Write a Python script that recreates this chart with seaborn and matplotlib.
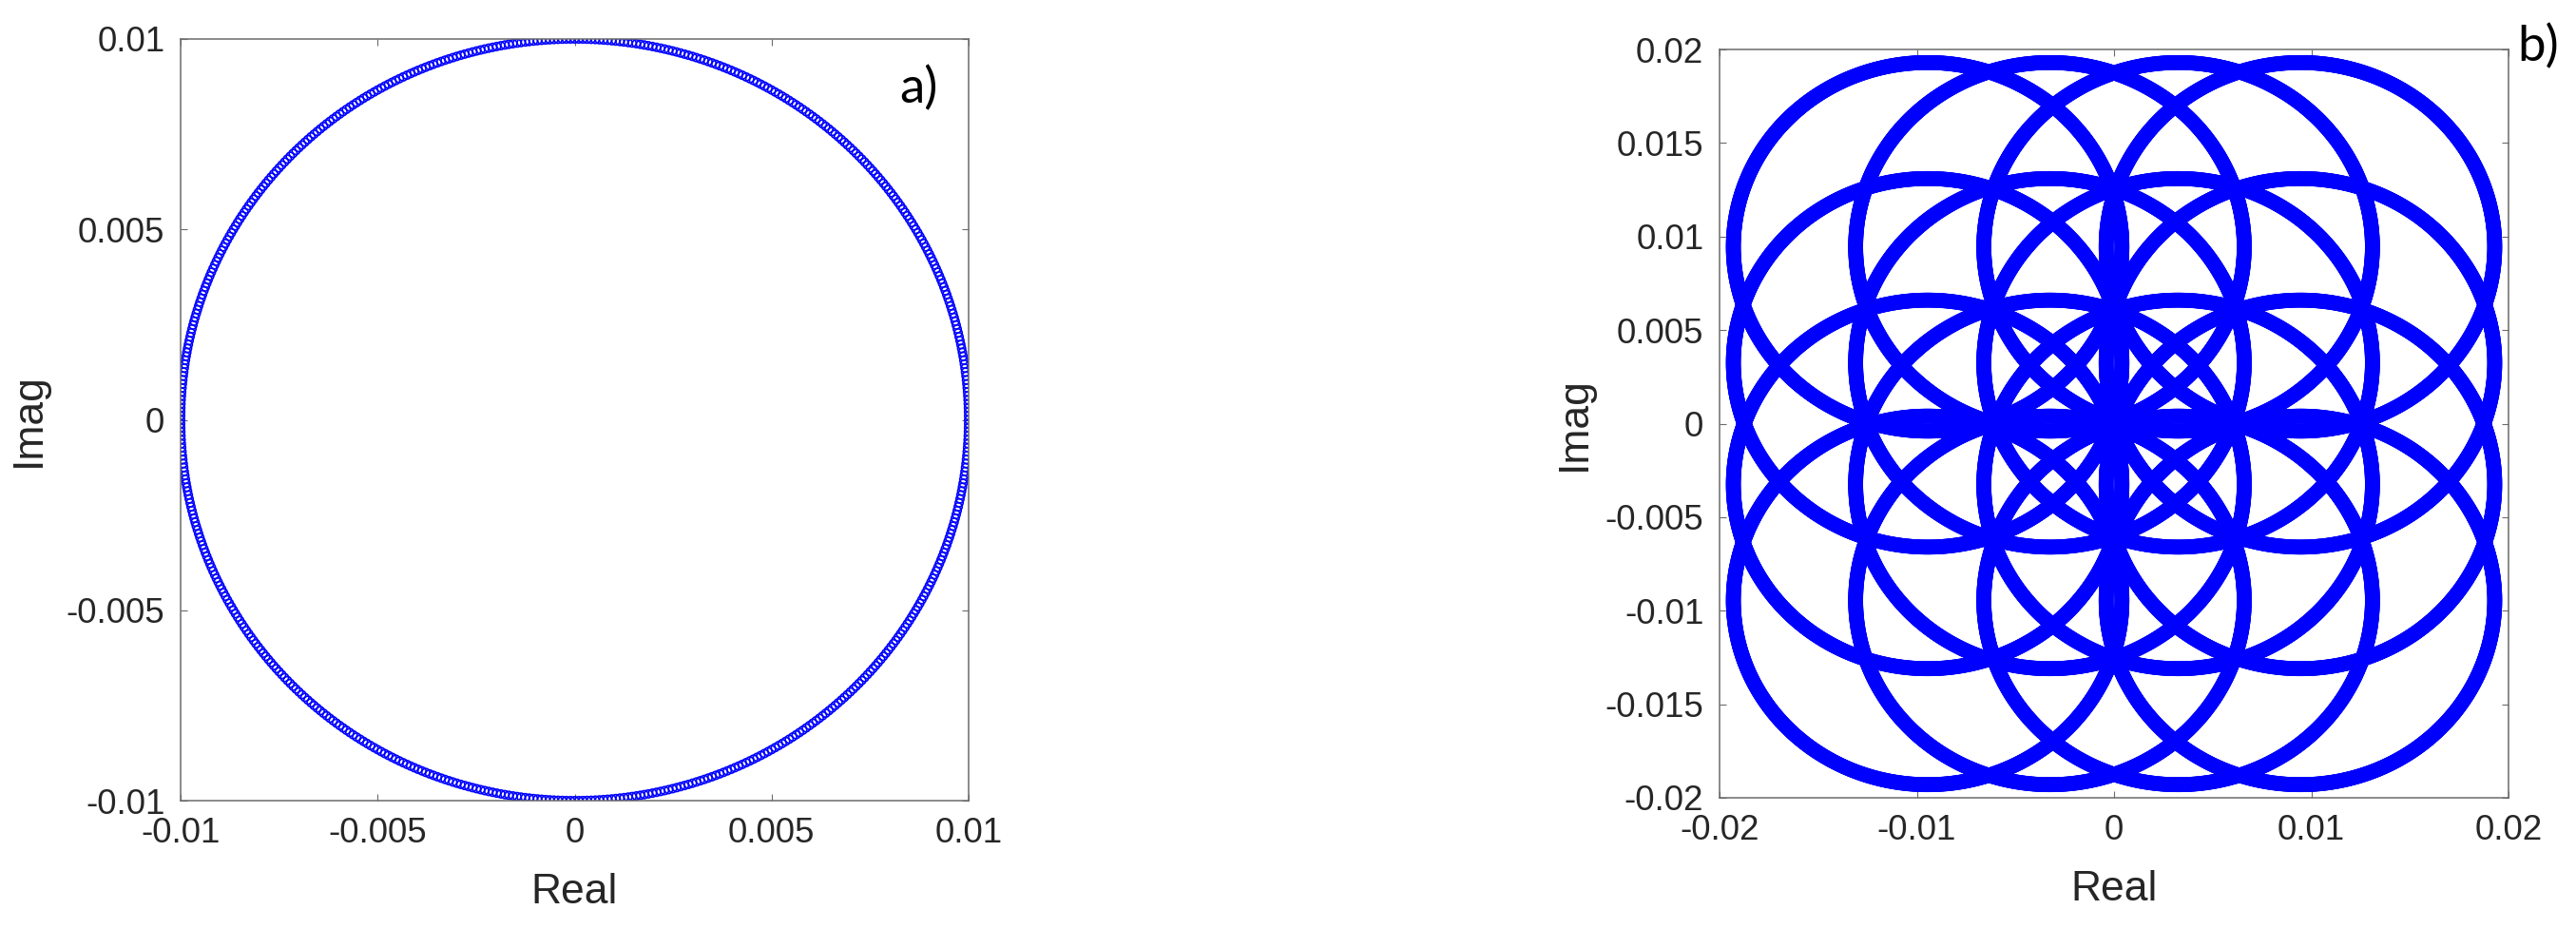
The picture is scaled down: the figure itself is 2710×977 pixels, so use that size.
import numpy as np
import pandas as pd
import matplotlib
matplotlib.use("Agg")
import matplotlib.pyplot as plt
import seaborn as sns

# ---------------- data ----------------
# panel a: one constellation ring
ring_a_radius = 0.01
ring_a_center = (0.0, 0.0)
ring_a_samples = 600

# panel b: 4 x 4 grid of rings (centre coordinates on each axis)
ring_b_centers_x = [-0.00945, -0.00325, 0.00325, 0.00945]
ring_b_centers_y = [-0.00945, -0.00325, 0.00325, 0.00945]
ring_b_radius = 0.00985
ring_b_samples = 1000

# axes / ticks
a_lim = [-0.01, 0.01]
a_xticks = [-0.01, -0.005, 0, 0.005, 0.01]
a_xticklabels = ["-0.01", "-0.005", "0", "0.005", "0.01"]
a_yticks = [-0.01, -0.005, 0, 0.005, 0.01]
a_yticklabels = ["-0.01", "-0.005", "0", "0.005", "0.01"]

b_lim = [-0.02, 0.02]
b_xticks = [-0.02, -0.01, 0, 0.01, 0.02]
b_xticklabels = ["-0.02", "-0.01", "0", "0.01", "0.02"]
b_yticks = [-0.02, -0.015, -0.01, -0.005, 0, 0.005, 0.01, 0.015, 0.02]
b_yticklabels = ["-0.02", "-0.015", "-0.01", "-0.005", "0", "0.005", "0.01", "0.015", "0.02"]

x_label = "Real"
y_label = "Imag"
panel_labels = ["a)", "b)"]


def ring_points(cx, cy, r, n):
    t = np.linspace(0, 2 * np.pi, n, endpoint=False)
    return cx + r * np.cos(t), cy + r * np.sin(t)


xa, ya = ring_points(ring_a_center[0], ring_a_center[1], ring_a_radius, ring_a_samples)
df_a = pd.DataFrame({"Real": xa, "Imag": ya})

rows = []
for cy in ring_b_centers_y:
    for cx in ring_b_centers_x:
        x, y = ring_points(cx, cy, ring_b_radius, ring_b_samples)
        rows.append(pd.DataFrame({"Real": x, "Imag": y}))
df_b = pd.concat(rows, ignore_index=True)

# ---------------- styling ----------------
sns.set_style("white")
plt.rcParams["font.family"] = ["Liberation Sans", "DejaVu Sans"]
plt.rcParams["axes.unicode_minus"] = False

DPI = 100
fig = plt.figure(figsize=(27.10, 9.77), dpi=DPI)

ax_a = fig.add_axes([190 / 2710, (977 - 842) / 977, 829 / 2710, 801 / 977])
ax_b = fig.add_axes([1809 / 2710, (977 - 839) / 977, 830 / 2710, 787 / 977])

BLUE = "#0000ff"
TXT = "#262626"
SPINE = "#6b6b6b"

sns.scatterplot(data=df_a, x="Real", y="Imag", ax=ax_a, marker="o", s=36,
                color=BLUE, edgecolor=BLUE, linewidth=1.2, legend=False)
sns.scatterplot(data=df_b, x="Real", y="Imag", ax=ax_b, marker="o", s=90,
                color=BLUE, edgecolor=BLUE, linewidth=1.8, legend=False)
for ax in (ax_a, ax_b):
    for coll in ax.collections:
        coll.set_facecolor("none")
        coll.set_edgecolor(BLUE)


def style_axes(ax, lim, xt, xtl, yt, ytl, label_x_off, label_y_off):
    ax.set_xlim(lim)
    ax.set_ylim(lim)
    ax.set_xticks(xt)
    ax.set_xticklabels(xtl)
    ax.set_yticks(yt)
    ax.set_yticklabels(ytl)
    ax.tick_params(axis="both", which="major", direction="in", length=5, width=0.8,
                   color=SPINE, labelsize=26.5, labelcolor=TXT, pad=12,
                   top=True, right=True, bottom=True, left=True)
    for sp in ax.spines.values():
        sp.set_visible(True)
        sp.set_color(SPINE)
        sp.set_linewidth(1.1)
    ax.set_xlabel(x_label, fontsize=32, color=TXT)
    ax.set_ylabel(y_label, fontsize=32, color=TXT)
    ax.xaxis.set_label_coords(0.5, label_y_off)
    ax.xaxis.label.set_va("center")
    ax.yaxis.set_label_coords(label_x_off, 0.5)
    ax.yaxis.label.set_va("center")
    ax.set_facecolor("white")


style_axes(ax_a, a_lim, a_xticks, a_xticklabels, a_yticks, a_yticklabels, -0.192, -0.121)
style_axes(ax_b, b_lim, b_xticks, b_xticklabels, b_yticks, b_yticklabels, -0.184, -0.123)

ax_a.text(0.936, 0.935, panel_labels[0], transform=ax_a.transAxes, fontsize=38,
          family=["Lato", "DejaVu Sans"], color="black", ha="center", va="center")
ax_b.text(1.037, 1.004, panel_labels[1], transform=ax_b.transAxes, fontsize=38,
          family=["Lato", "DejaVu Sans"], color="black", ha="center", va="center")

fig.savefig("out.png", dpi=DPI, facecolor="white")
